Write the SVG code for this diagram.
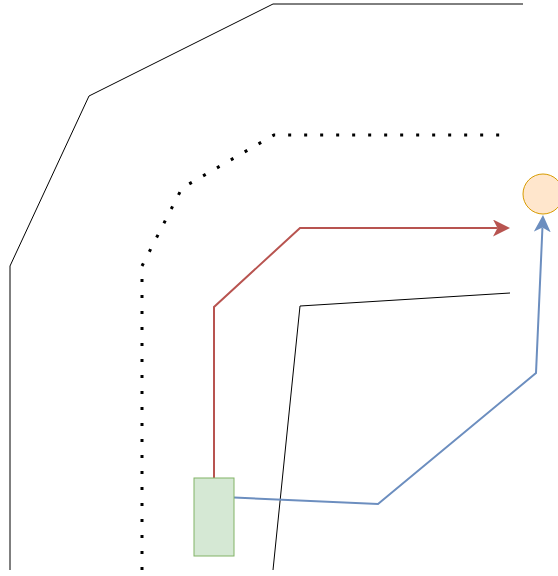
<svg xmlns="http://www.w3.org/2000/svg" width="558" height="576" viewBox="0 0 558 576">
  <style>
    .wall { fill: none; stroke: #000; stroke-width: 1; stroke-linejoin: miter; }
    .dots { fill: none; stroke: #000; stroke-width: 3; stroke-dasharray: 3 13; }
    .red { fill: none; stroke: #b85450; stroke-width: 2; }
    .blue { fill: none; stroke: #6c8ebf; stroke-width: 2; }
  </style>
  <defs>
    <marker id="arrRed" viewBox="0 0 17 17" refX="4.5" refY="8.5" markerWidth="17" markerHeight="17" markerUnits="userSpaceOnUse" orient="auto">
      <path d="M0,0 L17,8.5 L0,17 L4.5,8.5 Z" fill="#b85450"/>
    </marker>
    <marker id="arrBlue" viewBox="0 0 17 17" refX="4.5" refY="8.5" markerWidth="17" markerHeight="17" markerUnits="userSpaceOnUse" orient="auto">
      <path d="M0,0 L17,8.5 L0,17 L4.5,8.5 Z" fill="#6c8ebf"/>
    </marker>
  </defs>
  <rect width="558" height="576" fill="#fff"/>
  <g id="walls">
    <polyline class="wall" points="10,570 10,266 89,96 273,4 523,4"/>
    <polyline class="dots" points="142,570 142,266 182,188 274,135 500,135"/>
    <polyline class="wall" points="273,570 300,306 510,293"/>
  </g>
  <g id="connectors">
    <polyline class="red" points="214,478 214,307 300,228 497.5,228" marker-end="url(#arrRed)"/>
    <polyline class="blue" points="234,497.5 378,504 536,373 542.45,227.5" marker-end="url(#arrBlue)"/>
  </g>
  <g id="robot">
    <rect x="194" y="478" width="40" height="78" fill="#d5e8d4" stroke="#82b366" stroke-width="1"/>
  </g>
  <g id="target">
    <circle cx="543" cy="194" r="20" fill="#ffe6cc" stroke="#d79b00" stroke-width="1"/>
  </g>
</svg>
